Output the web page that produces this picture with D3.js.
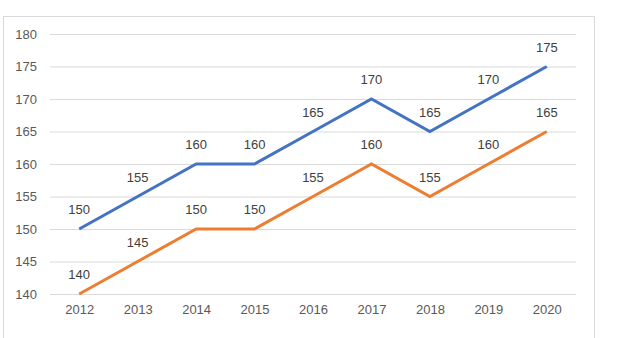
<!DOCTYPE html>
<html><head><meta charset="utf-8">
<script src="https://cdn.jsdelivr.net/npm/d3@7"></script>
<style>body{margin:0;background:#fff;}svg{display:block;}</style>
</head><body>
<svg id="c" width="618" height="338"></svg>
<script>
const years = ["2012","2013","2014","2015","2016","2017","2018","2019","2020"];
const seriesA = [150,155,160,160,165,170,165,170,175];
const seriesB = [140,145,150,150,155,160,155,160,165];
const yTicks = [140,145,150,155,160,165,170,175,180];
const colors = ["#4472C4","#ED7D31"];

const svg = d3.select("#c");
svg.append("rect").attr("x",3.5).attr("y",16.5).attr("width",591).attr("height",330)
  .attr("fill","#fff").attr("stroke","#d9d9d9");

const x = d3.scalePoint().domain(years).range([50,576]).padding(0.5);
const y = d3.scaleLinear().domain([140,180]).range([294,34]);

const font = "'Liberation Sans', Arial, sans-serif";
const yAxis = d3.axisLeft(y).tickValues(yTicks).tickSize(0).tickPadding(13);
const ga = svg.append("g").attr("transform","translate(50,0)").call(yAxis);
ga.select(".domain").remove();
ga.selectAll("text").attr("fill","#595959").style("font-family",font).style("font-size","13px");

svg.append("g").selectAll("line").data(yTicks).join("line")
  .attr("x1",50).attr("x2",576).attr("y1",d=>y(d)+0.5).attr("y2",d=>y(d)+0.5)
  .attr("stroke","#d9d9d9").attr("stroke-width",1);

const xAxis = d3.axisBottom(x).tickSize(0).tickPadding(11);
const gx = svg.append("g").attr("transform","translate(0,294)").call(xAxis);
gx.select(".domain").remove();
gx.selectAll("text").attr("fill","#595959").style("font-family",font).style("font-size","13px");

const line = d3.line().x((d,i)=>x(years[i])).y(d=>y(d));
[seriesB, seriesA].forEach((s,k)=>{
  const col = k===0 ? colors[1] : colors[0];
  svg.append("path").datum(s).attr("d",line).attr("fill","none")
    .attr("stroke",col).attr("stroke-width",3).attr("stroke-linejoin","miter");
});
[seriesA, seriesB].forEach(s=>{
  svg.append("g").selectAll("text").data(s).join("text")
    .attr("x",(d,i)=>x(years[i])).attr("y",d=>y(d)-15)
    .attr("text-anchor","middle").attr("fill","#404040")
    .style("font-family",font).style("font-size","13px").text(d=>d);
});
</script>
</body></html>
